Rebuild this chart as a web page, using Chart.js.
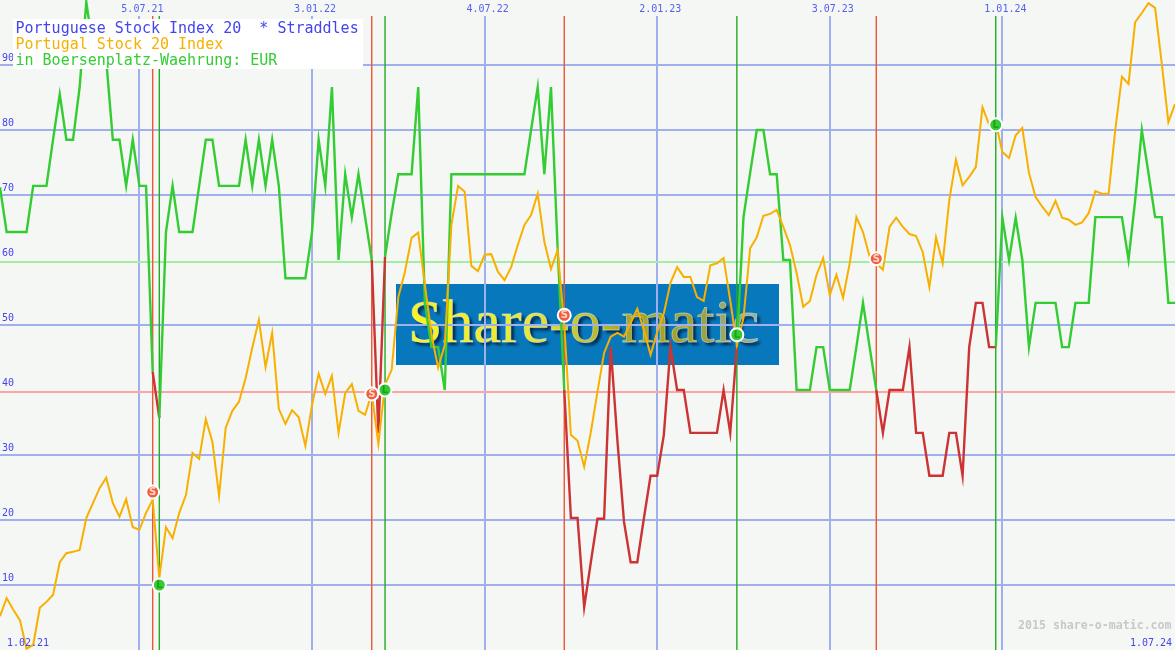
<!DOCTYPE html>
<html>
<head>
<meta charset="utf-8">
<title>Portuguese Stock Index 20</title>
<style>
  html, body { margin: 0; padding: 0; background: #f5f7f4; overflow: hidden; }
  canvas { display: block; }
</style>
<script src="https://cdn.jsdelivr.net/npm/chart.js@4"></script>
</head>
<body>
<canvas id="chart" width="1175" height="650"></canvas>
<script>
const xTickDates = ["5.07.21", "3.01.22", "4.07.22", "2.01.23", "3.07.23", "1.01.24"];
const yTickValues = [10, 20, 30, 40, 50, 60, 70, 80, 90];

const indexValues = [
  5.2, 8.0, 6.2, 4.6, 0.2, 0.8, 6.5, 7.4, 8.5, 13.5,
  14.9, 15.1, 15.4, 20.3, 22.6, 24.9, 26.5, 22.6, 20.5, 23.2,
  18.9, 18.5, 21.1, 23.1, 11.1, 18.9, 17.2, 21.1, 23.8, 30.3,
  29.4, 35.5, 32.0, 23.7, 34.2, 36.8, 38.2, 41.8, 46.5, 50.8,
  43.5, 48.8, 37.1, 34.8, 36.9, 35.8, 31.4, 37.7, 42.5, 39.4,
  42.2, 33.4, 39.5, 40.9, 36.8, 36.2, 39.5, 31.7, 40.8, 43.1,
  54.3, 58.2, 63.4, 64.2, 56.2, 48.5, 43.4, 46.9, 65.4, 71.4,
  70.5, 59.1, 58.3, 60.8, 60.9, 58.2, 56.9, 58.9, 62.3, 65.4,
  66.9, 70.2, 62.8, 58.6, 61.5, 50.0, 33.1, 32.2, 28.2, 33.5,
  39.7, 45.7, 48.2, 48.8, 48.2, 50.3, 52.5, 49.2, 45.4, 48.9,
  51.8, 56.5, 58.9, 57.4, 57.4, 54.3, 53.7, 59.2, 59.5, 60.3,
  53.8, 46.9, 51.1, 61.8, 63.5, 66.8, 67.1, 67.7, 65.1, 62.3,
  58.0, 52.8, 53.7, 57.7, 60.3, 54.6, 57.7, 54.2, 59.5, 66.6,
  64.3, 60.5, 59.5, 58.5, 65.1, 66.5, 65.1, 64.0, 63.7, 61.2,
  55.8, 63.5, 59.5, 69.2, 75.4, 71.5, 72.8, 74.3, 83.5, 80.8,
  81.2, 76.6, 75.7, 79.2, 80.3, 73.4, 69.7, 68.2, 66.9, 69.1,
  66.5, 66.2, 65.4, 65.8, 67.2, 70.6, 70.2, 70.2, 80.0, 88.2,
  87.1, 96.6, 98.0, 99.5, 98.8, 90.3, 81.2, 84.0
];

const straddleValues = [
  71.2, 64.3, 64.3, 64.3, 64.3, 71.4, 71.4, 71.4, 78.6, 85.5,
  78.5, 78.5, 86.6, 99.7, 92.6, 92.6, 90.8, 78.5, 78.5, 71.4,
  78.5, 71.4, 71.4, 42.8, 35.7, 64.3, 71.4, 64.3, 64.3, 64.3,
  71.4, 78.5, 78.5, 71.4, 71.4, 71.4, 71.4, 78.5, 71.4, 78.5,
  71.4, 78.5, 71.4, 57.2, 57.2, 57.2, 57.2, 64.3, 78.5, 71.4,
  86.6, 60, 73.2, 66.6, 73.2, 66.6, 60, 33.4, 60.5, 67.2,
  73.2, 73.2, 73.2, 86.6, 53.4, 46.6, 46.6, 40, 73.2, 73.2,
  73.2, 73.2, 73.2, 73.2, 73.2, 73.2, 73.2, 73.2, 73.2, 73.2,
  80, 86.6, 73.2, 86.6, 61.8, 40, 20.3, 20.3, 6.6, 13.5,
  20.2, 20.2, 46.6, 32.3, 19.7, 13.5, 13.5, 20.3, 26.8, 26.8,
  33.1, 46.6, 40, 40, 33.4, 33.4, 33.4, 33.4, 33.4, 40,
  33.4, 46.6, 66.6, 73.4, 80, 80, 73.2, 73.2, 60, 60,
  40, 40, 40, 46.6, 46.6, 40, 40, 40, 40, 46.6,
  53.4, 46.6, 40, 33.4, 40, 40, 40, 46.6, 33.4, 33.4,
  26.8, 26.8, 26.8, 33.4, 33.4, 26.8, 46.6, 53.4, 53.4, 46.6,
  46.6, 66.5, 60, 66.5, 60, 46.6, 53.4, 53.4, 53.4, 53.4,
  46.6, 46.6, 53.4, 53.4, 53.4, 66.6, 66.6, 66.6, 66.6, 66.6,
  60, 69.2, 80, 73.4, 66.6, 66.6, 53.4, 53.4
];

// weeks (position in the weekly axis) where a signal fired
const sellWeeks = [23, 56, 85, 132];
const buyWeeks = [24, 58, 111, 150];
const sellMarks = [24.3, 39.4, 51.5, 60.2];
const buyMarks = [10, 40, 48.5, 80.8];

const greenLevel = 59.7;
const redLevel = 39.7;
const topValue = 97.54;

const legendRows = [
  ["Portuguese Stock Index 20  * Straddles", "#4444ee"],
  ["Portugal Stock 20 Index", "#f8b000"],
  ["in Boersenplatz-Waehrung: EUR", "#33cc33"]
];

const BLUE = "#4444ee";
const GRID = "#a0b0ee";
const MONO = "'DejaVu Sans Mono', monospace";

// weekly mondays, first one is 8.02.21
const weeks = [];
for (let i = 0; i < indexValues.length; i++) {
  const d = new Date(Date.UTC(2021, 1, 8 + i * 7));
  const mm = String(d.getUTCMonth() + 1).padStart(2, "0");
  weeks.push(d.getUTCDate() + "." + mm + "." + String(d.getUTCFullYear()).slice(2));
}

const pick = (list, marks) => weeks.map((w, i) => {
  const at = list.indexOf(i);
  if (at < 0) return null;
  return marks ? marks[at] : topValue;
});

const inShort = (i) => {
  for (let k = 0; k < sellWeeks.length; k++) {
    if (i >= sellWeeks[k] && i < buyWeeks[k]) return true;
  }
  return false;
};

const noPadding = (s) => {
  s.paddingLeft = 0;
  s.paddingRight = 0;
  s.paddingTop = 0;
  s.paddingBottom = 0;
};

const logoPlugin = {
  id: "logo",
  beforeDraw(chart) {
    const ctx = chart.ctx;
    ctx.save();
    ctx.fillStyle = "#0878bc";
    ctx.fillRect(396, 284, 383, 81);
    const g = ctx.createLinearGradient(408, 0, 765, 0);
    g.addColorStop(0, "#fbf41e");
    g.addColorStop(0.35, "#e6e63a");
    g.addColorStop(0.6, "#a8a828");
    g.addColorStop(0.8, "#a0a030");
    g.addColorStop(1, "#8fb4b4");
    ctx.font = "62px 'Liberation Serif', serif";
    ctx.textBaseline = "alphabetic";
    ctx.shadowColor = "rgba(0,20,50,0.8)";
    ctx.shadowOffsetX = 3;
    ctx.shadowOffsetY = 3;
    ctx.shadowBlur = 3;
    ctx.fillStyle = g;
    ctx.fillText("Share-o-matic", 408, 342);
    ctx.shadowColor = "transparent";
    ctx.strokeStyle = "rgba(230,240,220,0.55)";
    ctx.lineWidth = 0.8;
    ctx.strokeText("Share-o-matic", 408, 342);
    ctx.restore();
  }
};

const textPlugin = {
  id: "texts",
  afterDatasetsDraw(chart) {
    const ctx = chart.ctx;
    ctx.save();

    // letters in the signal circles
    ctx.font = "bold 10px 'DejaVu Sans', sans-serif";
    ctx.textAlign = "center";
    ctx.textBaseline = "middle";
    chart.data.datasets.forEach((ds, di) => {
      if (!ds.markLetter) return;
      ctx.fillStyle = ds.markLetter === "S" ? "#ffd8c8" : "#1f9f1f";
      chart.getDatasetMeta(di).data.forEach((pt, i) => {
        if (ds.data[i] !== null) ctx.fillText(ds.markLetter, pt.x, pt.y + 0.5);
      });
    });

    ctx.textAlign = "left";
    ctx.textBaseline = "alphabetic";

    // title box
    ctx.fillStyle = "#ffffff";
    ctx.fillRect(13, 19, 350, 50);
    ctx.font = "15px " + MONO;
    legendRows.forEach((row, i) => {
      ctx.fillStyle = row[1];
      ctx.fillText(row[0], 15.5, 33 + i * 16);
    });

    // corner texts
    ctx.font = "10px " + MONO;
    ctx.fillStyle = BLUE;
    ctx.fillText("1.02.21", 7, 646);
    ctx.fillText("1.07.24", 1130, 646);
    ctx.font = "bold 11.6px " + MONO;
    ctx.fillStyle = "#c8c8c8";
    ctx.fillText("2015 share-o-matic.com", 1018, 629);
    ctx.restore();
  }
};

new Chart(document.getElementById("chart"), {
  type: "line",
  plugins: [logoPlugin, textPlugin],
  data: {
    labels: weeks,
    datasets: [
      {
        label: "sell",
        data: pick(sellWeeks, sellMarks),
        markLetter: "S",
        showLine: false,
        pointRadius: 6.5,
        pointBackgroundColor: "#f25c40",
        pointBorderColor: "#ffffff",
        pointBorderWidth: 2,
        clip: false,
        order: 0
      },
      {
        label: "buy",
        data: pick(buyWeeks, buyMarks),
        markLetter: "L",
        showLine: false,
        pointRadius: 6.5,
        pointBackgroundColor: "#33cc33",
        pointBorderColor: "#ffffff",
        pointBorderWidth: 2,
        clip: false,
        order: 0
      },
      {
        label: "Portugal Stock 20 Index",
        data: indexValues,
        borderColor: "#f8b000",
        borderWidth: 2,
        pointRadius: 0,
        tension: 0,
        clip: false,
        order: 1
      },
      {
        label: "Straddles",
        data: straddleValues,
        borderColor: "#33cc33",
        borderWidth: 2.4,
        pointRadius: 0,
        tension: 0,
        clip: false,
        order: 2,
        segment: {
          borderColor: (c) => inShort(c.p0DataIndex) ? "#cc3333" : "#33cc33"
        }
      },
      {
        type: "bar",
        label: "sell line",
        data: pick(sellWeeks),
        backgroundColor: "#ee5533",
        barThickness: 1.4,
        inflateAmount: 0,
        grouped: false,
        order: 3
      },
      {
        type: "bar",
        label: "buy line",
        data: pick(buyWeeks),
        backgroundColor: "#22aa22",
        barThickness: 1.4,
        inflateAmount: 0,
        grouped: false,
        order: 3
      },
      {
        label: "green level",
        data: [{ x: weeks[0], y: greenLevel }, { x: weeks[weeks.length - 1], y: greenLevel }],
        borderColor: "#a4eea4",
        borderWidth: 2,
        pointRadius: 0,
        order: 4
      },
      {
        label: "red level",
        data: [{ x: weeks[0], y: redLevel }, { x: weeks[weeks.length - 1], y: redLevel }],
        borderColor: "#ffa4a4",
        borderWidth: 2,
        pointRadius: 0,
        order: 4
      }
    ]
  },
  options: {
    responsive: false,
    animation: false,
    layout: { padding: 0, autoPadding: false },
    plugins: {
      legend: { display: false },
      tooltip: { enabled: false }
    },
    scales: {
      x: {
        type: "category",
        position: "top",
        offset: false,
        grid: { color: GRID, lineWidth: 2, offset: false, drawTicks: false },
        border: { display: false },
        ticks: {
          autoSkip: false,
          maxRotation: 0,
          padding: 1,
          labelOffset: 3,
          color: "#5560ee",
          font: { family: MONO, size: 10 }
        },
        afterBuildTicks: (s) => {
          s.ticks = xTickDates.map((d) => ({ value: weeks.indexOf(d) }));
        },
        afterFit: (s) => { s.height = 16; noPadding(s); }
      },
      y: {
        min: 0,
        max: topValue,
        grid: {
          lineWidth: 2,
          drawTicks: false,
          color: (c) => (c.tick && (c.tick.value === 40 || c.tick.value === 60)) ? "transparent" : GRID
        },
        border: { display: false },
        ticks: {
          mirror: true,
          padding: 2,
          labelOffset: -7,
          color: BLUE,
          font: { family: MONO, size: 10 }
        },
        afterBuildTicks: (s) => {
          s.ticks = yTickValues.map((v) => ({ value: v }));
        },
        afterFit: (s) => { s.width = 0; noPadding(s); }
      }
    }
  }
});
</script>
</body>
</html>
